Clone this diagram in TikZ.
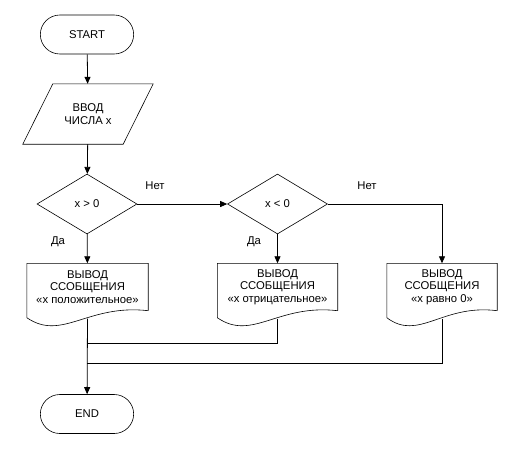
\documentclass[tikz,border=0pt]{standalone}
\usepackage{fontspec}
\setmainfont{Liberation Sans}
\usetikzlibrary{shapes.geometric, shapes.misc, arrows.meta}

\begin{document}
\begin{tikzpicture}[
		x=1pt, y=-1pt,
		font=\fontsize{11.3}{12.5}\selectfont,
		line/.style={line width=0.8pt},
		arr/.style={line width=0.8pt, -{Triangle[width=6pt, length=7pt]}},
		term/.style={draw, rounded rectangle, minimum width=100pt, minimum height=39pt, line width=0.6pt},
		inbox/.style={minimum width=100pt, minimum height=60pt, align=center,
			append after command={\pgfextra{\draw[line width=0.6pt]
				([xshift=-15pt]\tikzlastnode.south west) -- ([xshift=15pt]\tikzlastnode.north west)
				-- ([xshift=15pt]\tikzlastnode.north east) -- ([xshift=-15pt]\tikzlastnode.south east) -- cycle;}}},
		cond/.style={draw, diamond, minimum width=100pt, minimum height=60pt, inner sep=0pt, line width=0.6pt},
		docbox/.style={minimum width=#1, minimum height=47pt, inner sep=0pt, align=center,
			append after command={\pgfextra{\draw[line width=0.6pt]
				(\tikzlastnode.south east) -- (\tikzlastnode.north east) -- (\tikzlastnode.north west)
				-- ([yshift=-7pt]\tikzlastnode.south west)
				.. controls +({0.29*#1},-24pt) and +({-0.5*#1},7pt) .. (\tikzlastnode.south east);
				\coordinate (\tikzlastnode-b) at ([yshift=-8pt]\tikzlastnode.south);}}}
	]

	\useasboundingbox (0,0) rectangle (518,466);

	\node[term] (start) at (87,34.5) {START};
	\node[inbox] (input) at (88,114) {ВВОД\\[0.5pt]ЧИСЛА x};

	\node[cond] (pos) at (87,204) {x > 0};
	\node[cond] (neg) at (277.5,204) {x < 0};

	\node[docbox=121pt] (msgpos) at (87.5,287) {ВЫВОД\\ССОБЩЕНИЯ\\«x положительное»};
	\node[docbox=120pt] (msgneg) at (277.5,287) {ВЫВОД\\ССОБЩЕНИЯ\\«x отрицательное»};
	\node[docbox=110pt] (msgzero) at (442,287) {ВЫВОД\\ССОБЩЕНИЯ\\«x равно 0»};

	\node[term] (end) at (87,414) {END};

	% labels
	\node (no1) at (155,186) {Нет};
	\node (no2) at (367,186) {Нет};
	\node (yes1) at (58,242) {Да};
	\node (yes2) at (254,242) {Да};

	\draw[arr] (start) -- (input);
	\draw[arr] (input) -- (pos);
	\draw[arr] (pos) -- (neg);
	\draw[arr] (pos) -- (msgpos);
	\draw[arr] (neg) -- (msgneg);
	\draw[arr] (neg.east) -| (msgzero.north);

	\coordinate (j1) at (87,343);
	\coordinate (j2) at (87,363);
	\draw[line] (msgneg-b) |- (j1);
	\draw[line] (msgzero-b) |- (j2);
	\draw[arr] (msgpos-b) -- (end);
\end{tikzpicture}
\end{document}
